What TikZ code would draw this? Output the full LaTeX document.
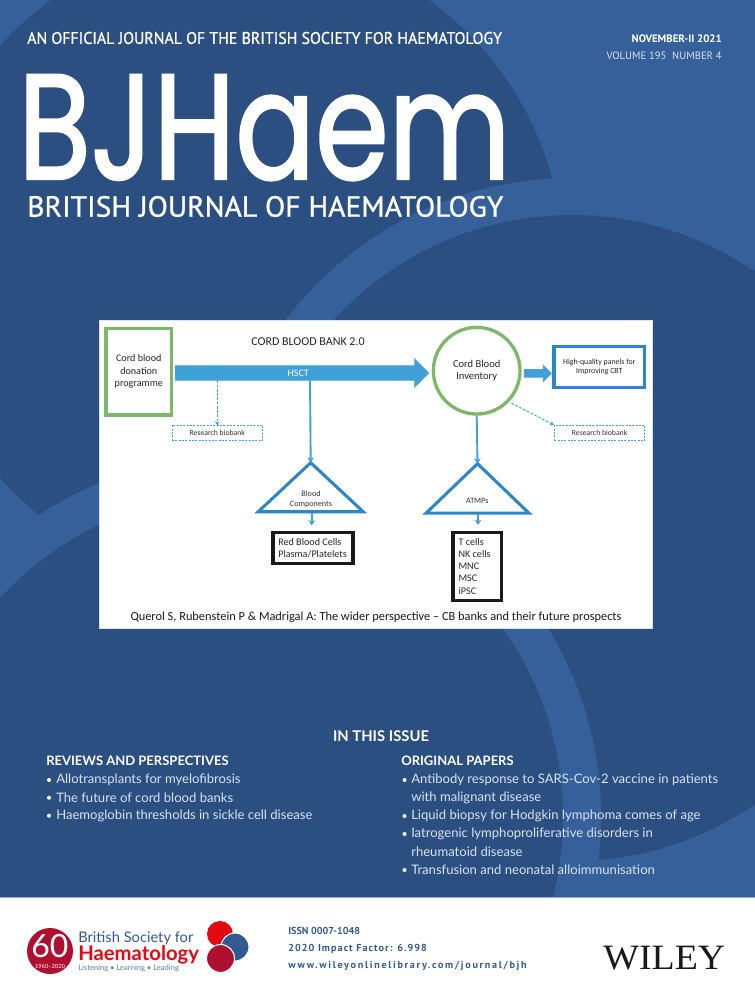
\documentclass[tikz,border=0pt]{standalone}
\usepackage{fontspec}
\usepackage{graphicx}
\usetikzlibrary{arrows.meta,shapes.geometric,shapes.arrows}
\setmainfont{Lato}
\newfontfamily\carlito{Carlito}
\newfontfamily\din{PT Sans}
\newfontfamily\poppins[FakeBold=1.8]{Poppins}
\newfontfamily\dinmed[FakeBold=1]{PT Sans}
\newfontfamily\serifw{Liberation Serif}
\definecolor{coverlight}{RGB}{54,96,154}
\definecolor{coverdark}{RGB}{44,79,130}
\definecolor{panelgreen}{RGB}{125,184,106}
\definecolor{arrowblue}{RGB}{64,160,218}
\definecolor{boxblue}{RGB}{46,134,200}
\definecolor{listtext}{RGB}{216,226,240}
\definecolor{logored}{RGB}{227,6,19}
\definecolor{logodark}{RGB}{176,16,48}
\definecolor{footblue}{RGB}{50,90,145}
\tikzset{
  covertext/.style={text=white,inner sep=0pt},
  listhead/.style={covertext,anchor=west,font=\fontsize{9.75}{12}\selectfont\bfseries},
  listitem/.style={inner sep=0pt,text=listtext,anchor=west,font=\fontsize{9.8}{12}\selectfont},
  listdot/.style={circle,fill=white,inner sep=0pt,minimum size=3pt},
  greenline/.style={draw=panelgreen,line width=2.5pt},
  bluetri/.style={draw=boxblue,line width=2.3pt,isosceles triangle,shape border rotate=90,
    isosceles triangle stretches,inner sep=0pt,outer sep=0pt,anchor=apex},
  blackbox/.style={draw=black!90,line width=2.3pt,fill=white,inner sep=0pt,outer sep=0pt},
  boxtext/.style={inner sep=0pt,text=black!85,font=\carlito\fontsize{7.6}{9}\selectfont,anchor=west},
  smalltext/.style={inner sep=0pt,align=center,text=black!80,font=\carlito\fontsize{6.1}{7.5}\selectfont},
  biobank/.style={draw=arrowblue,dash pattern=on 1.5pt off 1pt,line width=0.7pt,minimum width=68pt,minimum height=11.5pt,
    inner sep=0pt,outer sep=0pt,text=black!80,font=\carlito\fontsize{5.8}{6}\selectfont},
  solidarrow/.style={draw=arrowblue,line width=1.4pt,-{Stealth[length=4pt,width=5pt]}},
  dasharrow/.style={draw=arrowblue,dash pattern=on 2pt off 1.2pt,line width=0.7pt,-{Stealth[length=3pt,width=3.5pt]}},
  blockarrow/.style={single arrow,fill=arrowblue,draw=boxblue!70,line width=0.3pt,inner ysep=0pt,inner xsep=0pt,outer sep=0pt,
    single arrow tip angle=90,anchor=west},
  foottext/.style={inner sep=0pt,anchor=west,text=footblue,font=\din\bfseries\fontsize{7.6}{9}\selectfont}
}
\begin{document}
\begin{tikzpicture}[x=0.75pt,y=0.75pt,yscale=-1,xscale=1]
\useasboundingbox (0,0) rectangle (755,1000);
\begin{scope}
\clip (0,0) rectangle (755,897);
%Background discs
\fill [coverlight] (0,0) rectangle (755,897);
\fill [coverdark] (240,262) circle (323);
\fill [coverlight] (572,538) circle (360);
\fill [coverdark] (572,538) circle (323);
\fill [coverlight] (239,817) circle (362);
\fill [coverdark] (239,817) circle (324);
\end{scope}
\draw [coverlight!50!white,line width=0.6pt] (0,897.5) -- (755,897.5);

% Masthead
\node [covertext,anchor=west] (strap) at (27,38) {\resizebox{356pt}{9pt}{\dinmed AN OFFICIAL JOURNAL OF THE BRITISH SOCIETY FOR HAEMATOLOGY}};
\node [covertext,anchor=east] (issuedate) at (722,39) {\din\bfseries\fontsize{8.1}{9}\selectfont NOVEMBER-II 2021};
\node [covertext,anchor=east,text=listtext] (issuenum) at (722,55.5) {\din\fontsize{8}{9}\selectfont VOLUME 195\ \ NUMBER 4};
\node [covertext,anchor=south west] (bjhaem) at (18,180.5) {\resizebox{369pt}{78pt}{\poppins BJHaem}};
\node [covertext,anchor=west] (jname) at (27,206.5) {\resizebox{357pt}{15.5pt}{\dinmed BRITISH JOURNAL OF HAEMATOLOGY}};

%Panel
\fill [white] (99,320) rectangle (652,628);
\draw [listtext,line width=0.5pt] (99,320) rectangle (652,628);
\node [inner sep=0pt,text=black!85,font=\carlito\fontsize{9}{10}\selectfont] (ptitle) at (308,342) {CORD BLOOD BANK 2.0};
\node [greenline,minimum width=49.25pt,minimum height=65pt,inner sep=0pt,outer sep=0pt,align=center,
  font=\carlito\fontsize{7.6}{9.3}\selectfont,text=black!85] (donation) at (138.8,371.7) {Cord blood\\donation\\programme};
\node [greenline,circle,minimum size=65pt,inner sep=0pt,outer sep=1.2pt,align=center,
  font=\carlito\fontsize{7.9}{9.3}\selectfont,text=black!85] (inventory) at (476.7,370.7) {Cord Blood\\Inventory};
\node [blockarrow,minimum height=190.5pt,minimum width=21.75pt,single arrow head extend=5.4pt,text height=8pt,text depth=3pt,
  text=white,font=\carlito\fontsize{7.5}{8}\selectfont] (hsct) at (175,373) {HSCT};
\node [blockarrow,minimum height=20.8pt,minimum width=12.5pt,single arrow head extend=3.4pt,text height=5.8pt,text depth=0pt] (toward) at (524,373.3) {};
\node [draw=boxblue,line width=2.4pt,minimum width=68pt,minimum height=30.5pt,inner sep=0pt,outer sep=0pt,align=center,
  text=black!85,font=\carlito\fontsize{5.9}{7.4}\selectfont] (panels) at (599.3,367) {High-quality panels for\\Improving CBT};
\node [biobank] (biobankl) at (217.3,433) {Research biobank};
\node [biobank] (biobankr) at (599.6,433) {Research biobank};
\node [bluetri,minimum width=78.8pt,minimum height=36.8pt] (triblood) at (310.7,462.7) {};
\node [bluetri,minimum width=77pt,minimum height=37pt] (triatmp) at (477.5,463.7) {};
\node [smalltext] (tribloodtext) at (311,499) {Blood\\Components};
\node [smalltext] (triatmptext) at (477.3,501) {ATMPs};
\node [blackbox,minimum width=60pt,minimum height=23pt] (cells) at (313,547.7) {};
\node [blackbox,minimum width=36.5pt,minimum height=50.6pt] (types) at (477.3,566.3) {};
\node [boxtext] (cellsa) at (278,542.3) {Red Blood Cells};
\node [boxtext] (cellsb) at (278,554.3) {Plasma/Platelets};
\node [boxtext] (typea) at (458.3,542.3) {T cells};
\node [boxtext] (typeb) at (458.3,554.3) {NK cells};
\node [boxtext] (typec) at (458.3,566.7) {MNC};
\node [boxtext] (typed) at (458.3,578.5) {MSC};
\node [boxtext] (typee) at (458.3,590.7) {iPSC};
\node [inner sep=0pt,text=black!90,font=\carlito\fontsize{9.27}{11}\selectfont] (caption) at (376,617) {Querol S, Rubenstein P \& Madrigal A: The wider perspective – CB banks and their future prospects};

%Connectors
\coordinate (hsctdrop) at (310,380.3);
\coordinate (hsctdash) at (217.3,380.3);
\coordinate (tribloodbase) at (311.7,513);
\coordinate (triatmpbase) at (478,514);
\coordinate (cellstop) at (311.7,525.5);
\coordinate (typestop) at (478,525);
\coordinate (invdash) at (511.7,403.3);
\coordinate (bankcorner) at (554,425);
\draw [solidarrow] (hsctdrop) -- (triblood.apex);
\draw [solidarrow] (inventory.south) -- (triatmp.apex);
\draw [solidarrow] (tribloodbase) -- (cellstop);
\draw [solidarrow] (triatmpbase) -- (typestop);
\draw [dasharrow] (hsctdash) -- (biobankl.north);
\draw [dasharrow] (invdash) -- (bankcorner);

% In this issue
\node [covertext,font=\fontsize{11.1}{12}\selectfont\bfseries] (issuehead) at (381,736) {IN THIS ISSUE};
\node [listhead] (revhead) at (46,761) {REVIEWS AND PERSPECTIVES};
\node [listhead] (orighead) at (401,761) {ORIGINAL PAPERS};
\foreach \ypos/\itext in {780/Allotransplants for myelofibrosis,797.7/The future of cord blood banks,815.7/Haemoglobin thresholds in sickle cell disease}
{
\node [listdot] at (49,\ypos) {};
\node [listitem] at (56,\ypos) {\itext};
}
\foreach \ypos/\itext in {780/Antibody response to SARS-Cov-2 vaccine in patients,816/Liquid biopsy for Hodgkin lymphoma comes of age,834/Iatrogenic lymphoproliferative disorders in,870/Transfusion and neonatal alloimmunisation}
{
\node [listdot] at (404.5,\ypos) {};
\node [listitem] at (411,\ypos) {\itext};
}
\node [listitem] (origb) at (411,798) {with malignant disease};
\node [listitem] (origd) at (411,852) {rheumatoid disease};

% Footer
\fill [logodark] (50,951) circle (23);
\node [inner sep=0pt,text=white,font=\fontsize{24}{24}\selectfont] (sixty) at (50,946) {60};
\node [inner sep=0pt,text=white,font=\fontsize{4.3}{5}\selectfont] (years) at (50,966) {1960–2020};
\node [inner sep=0pt,anchor=west,text=footblue,font=\fontsize{11}{12}\selectfont] (bsh) at (78,938) {British Society for};
\node [inner sep=0pt,anchor=west,text=logored,font=\fontsize{15.2}{16}\selectfont\bfseries] (haem) at (78,955) {Haematology};
\node [inner sep=0pt,anchor=west,text=footblue!80,font=\fontsize{5.7}{7}\selectfont] (motto) at (78,968) {Listening • Learning • Leading};
\fill [logored] (220,934) circle (13);
\fill [footblue,draw=white,line width=0.8pt] (235,947) circle (14);
\fill [logodark,draw=white,line width=0.8pt] (220.5,958.5) circle (14);
\node [foottext] (issn) at (288,931) {ISSN 0007-1048};
\node [foottext,font=\din\bfseries\addfontfeature{LetterSpace=10.4}\fontsize{7.6}{9}\selectfont] (impact) at (288,949) {2020 Impact Factor: 6.998};
\node [foottext,font=\din\bfseries\addfontfeature{LetterSpace=17}\fontsize{7.6}{9}\selectfont] (url) at (288,966) {www.wileyonlinelibrary.com/journal/bjh};
\node [inner sep=0pt,anchor=west,text=black!90] (wiley) at (603,958) {\resizebox{91.5pt}{17.5pt}{\serifw WILEY}};
\end{tikzpicture}
\end{document}
